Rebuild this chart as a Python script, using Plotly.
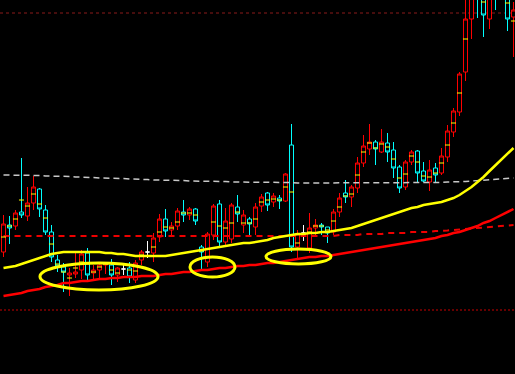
import plotly.graph_objects as go

# OHLC per session (price units), plus the yellow per-session marker
opens = [122,149,148,162,158,171,185,164,142,114,
         107,99,100,104,121,101,104,109,109,99,
         105,106,94,114,122,121,137,155,144,148,
         162,159,165,127,112,139,170,132,135,167,
         149,155,147,168,181,172,176,173,229,127,
         141,126,146,149,147,142,162,181,177,186,
         211,225,232,222,231,224,207,187,212,223,
         203,192,206,201,217,242,262,302,355,400,
         395,355,400,390,395,357]
highs = [159,158,164,216,187,198,186,169,149,119,
         111,106,121,124,126,109,112,112,115,107,
         109,112,114,124,133,141,160,165,152,166,
         174,167,166,129,142,170,174,166,171,179,
         164,157,171,180,182,181,179,201,250,144,
         149,161,155,151,147,165,181,194,189,217,
         239,250,234,245,241,232,209,214,224,224,
         212,214,211,226,249,266,302,380,400,410,
         405,400,410,410,405,372]
lows = [117,130,144,156,153,164,157,139,112,102,
        82,78,96,95,94,94,96,100,89,92,
        99,91,91,109,116,112,132,137,139,144,
        152,154,149,104,107,134,127,129,131,152,
        141,137,139,162,163,167,165,172,122,114,
        133,121,139,139,131,139,157,171,167,181,
        207,219,209,221,212,196,181,184,209,192,
        192,183,191,199,212,237,258,293,335,356,
        337,345,364,380,343,317]
closes = [150,146,161,159,171,187,165,142,117,108,
          102,101,102,120,99,104,109,110,99,106,
          105,97,111,122,122,136,155,143,148,163,
          159,165,153,122,140,168,132,153,169,160,
          159,150,167,177,169,178,173,200,127,140,
          141,146,149,147,141,162,176,177,187,211,
          228,232,225,232,222,206,186,212,222,201,
          193,204,199,218,243,263,300,355,390,380,
          359,390,380,400,355,364]
ticks = [137,148,155,174,168,180,170,156,130,110,
         102,96,106,112,110,102,107,110,104,101,
         None,104,103,119,None,127,142,147,146,152,
         161,161,159,123,125,152,148,146,151,162,
         151,151,155,172,174,175,174,187,182,131,
         None,142,148,148,144,153,167,178,180,199,
         222,231,226,230,227,215,196,200,218,212,
         198,197,201,211,229,251,281,335,385,390,
         372,385,390,395,371,353]

# moving averages
ma_yellow = [106,107,108,110,112,114,116,118,120,121,
             122,122,122,122,122,122,122,121,121,120,
             120,119,118,118,118,118,118,118,119,120,
             121,122,123,124,125,126,127,128,129,130,
             131,131,132,133,134,136,137,138,139,140,
             140,141,141,142,142,143,144,145,146,148,
             150,152,154,156,158,160,162,164,166,167,
             169,170,171,172,174,176,179,183,187,192,
             197,203,209,215,221,226]
ma_red = [78,79,80,81,83,84,85,87,88,89,
          91,91,92,93,93,94,95,95,96,96,
          97,97,97,98,98,98,99,100,100,101,
          102,102,103,104,104,105,106,106,107,108,
          108,109,109,110,111,111,112,113,114,115,
          116,117,117,118,118,119,120,121,122,123,
          124,125,126,127,128,129,130,131,132,133,
          134,135,136,138,139,141,142,144,146,148,
          151,153,156,159,162,165]
ma_gray = [199,199,199,199,198.5,198.5,198.5,198,198,198,
           197.5,197.5,197,197,197,196.5,196,196,196,195.5,
           195.5,195,195,194.5,194.5,194,194,194,193.5,193.5,
           193.5,193,193,193,192.5,192.5,192.5,192.5,192,192,
           192,192,192,191.5,191.5,191.5,191.5,191.5,191.5,191,
           191,191,191,191,191,191,191,191,191,191,
           191,191,191,191,191,191,191,191,191,191,
           191,191,191.5,191.5,192,192,192.5,192.5,193,193.5,
           194,194.5,195,195,195.5,196]
ma_red_long = [138,138,138,138,138,138,138,138,138,138,
               138,138,138,138,138,138,138,138,138,138,
               138,138,138,138,138,138,137.5,137.5,137.5,137.5,
               137.5,137.5,137.5,137.5,137.5,137.5,137.5,137.5,137.5,137.5,
               137.5,137.5,137.5,138,138,138,138,138,138,138,
               138,138,138,138,138,138,139,139,139,139,
               140,140,140,140,141,141,141,141,142,142,
               142,142,143,143,143.5,144,144.5,145,145.5,146,
               146.5,147,147.5,148,148.5,149]

level_top = 361
level_bottom = 64

# highlighted zones (candle index, price)
ellipses = [
    dict(x0=6.08, x1=25.75, y0=84, y1=111),
    dict(x0=31.08, x1=38.58, y0=97, y1=117),
    dict(x0=43.75, x1=54.58, y0=110, y1=125),
]

idx = list(range(len(opens)))
fig = go.Figure()

for vals, col, dash, w in [(ma_gray, '#c8c8c8', '6px,4px', 1.5),
                           (ma_red_long, '#ee0000', '6px,5px', 2)]:
    fig.add_trace(go.Scatter(x=idx, y=vals, mode='lines',
                             line=dict(color=col, width=w, dash=dash),
                             hoverinfo='skip', showlegend=False))

groups = [(lambda o, c: c > o, '#ff0000'),
          (lambda o, c: c < o, '#00ffff'),
          (lambda o, c: c == o, '#ffffff')]
for cond, col in groups:
    sel = [i for i in idx if cond(opens[i], closes[i])]
    style = dict(line=dict(color=col, width=1), fillcolor='#000000')
    fig.add_trace(go.Candlestick(
        x=sel,
        open=[opens[i] for i in sel], high=[highs[i] for i in sel],
        low=[lows[i] for i in sel], close=[closes[i] for i in sel],
        increasing=style, decreasing=style, whiskerwidth=0,
        hoverinfo='skip', showlegend=False))

fig.add_trace(go.Scatter(x=idx, y=ticks, mode='markers',
                         marker=dict(symbol='line-ew', size=3.6,
                                     line=dict(color='#ffff00', width=1)),
                         hoverinfo='skip', showlegend=False))

fig.add_trace(go.Scatter(x=idx, y=ma_red, mode='lines',
                         line=dict(color='#ff0000', width=2.5),
                         hoverinfo='skip', showlegend=False))
fig.add_trace(go.Scatter(x=idx, y=ma_yellow, mode='lines',
                         line=dict(color='#ffff00', width=2.5),
                         hoverinfo='skip', showlegend=False))

shapes = [
    dict(type='line', xref='paper', x0=0, x1=1, yref='y', y0=level_top, y1=level_top,
         line=dict(color='#8b1a1a', width=1, dash='3px,3px'), layer='below'),
    dict(type='line', xref='paper', x0=0, x1=1, yref='y', y0=level_bottom, y1=level_bottom,
         line=dict(color='#c80000', width=1, dash='2px,2px'), layer='below'),
]
for e in ellipses:
    shapes.append(dict(type='circle', xref='x', yref='y', x0=e['x0'], x1=e['x1'],
                       y0=e['y0'], y1=e['y1'],
                       line=dict(color='#ffff00', width=3), layer='above'))

fig.update_layout(
    width=515, height=374, margin=dict(l=0, r=0, t=0, b=0),
    paper_bgcolor='#000000', plot_bgcolor='#000000',
    showlegend=False, boxgap=0.33, boxgroupgap=0,
    xaxis=dict(visible=False, range=[-0.5833, 85.25], rangeslider=dict(visible=False)),
    yaxis=dict(visible=False, range=[0, 374]),
    shapes=shapes,
)
fig.write_html("out.html", config={'displayModeBar': False})
